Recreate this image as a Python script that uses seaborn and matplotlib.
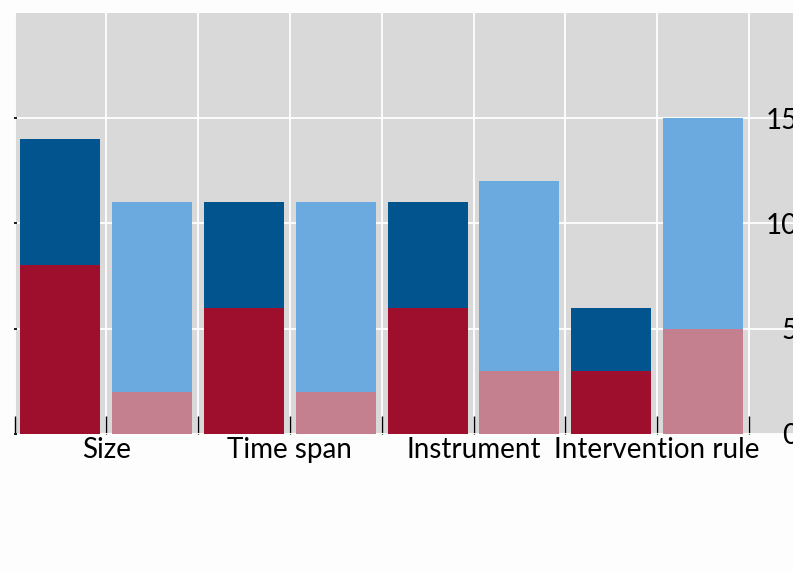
import numpy as np
import pandas as pd
import matplotlib
matplotlib.use("Agg")
import matplotlib.pyplot as plt
import seaborn as sns

# Data
groups = ["Size", "Time span", "Instrument", "Intervention rule"]
bar_ids = ["b0", "b1", "b2", "b3", "b4", "b5", "b6", "b7"]
bottom_vals = [8, 2, 6, 2, 6, 3, 3, 5]
top_vals = [6, 9, 5, 9, 5, 9, 3, 10]
y_ticks = [0, 5, 10, 15]

bottom_colors = ["#9e0f2d", "#c4808f"] * 4
top_colors = ["#02548f", "#6aaadf"] * 4

totals = [b + t for b, t in zip(bottom_vals, top_vals)]
df = pd.DataFrame({"bar": bar_ids, "bottom": bottom_vals, "total": totals})

sns.set_theme(style="darkgrid")
plt.rcParams["font.family"] = ["Lato", "DejaVu Sans"]

fig = plt.figure(figsize=(7.93, 5.73), dpi=100, facecolor="#fdfdfd")
ax = fig.add_axes([14.5 / 793, (573 - 434) / 573, 1 - 14.5 / 793, (434 - 12.7) / 573])
ax.set_facecolor("#d9d9d9")

sns.barplot(data=df, x="bar", y="total", hue="bar", palette=top_colors,
            width=0.87, saturation=1, legend=False, ax=ax, edgecolor="none")
sns.barplot(data=df, x="bar", y="bottom", hue="bar", palette=bottom_colors,
            width=0.87, saturation=1, legend=False, ax=ax, edgecolor="none")

ax.set_xlim(-0.5, 7.98)
ax.set_ylim(0, 20)
ax.set_xlabel("")
ax.set_ylabel("")

xt = np.arange(-0.5, 8, 1)
labels = [""] * len(xt)
for i, g in enumerate(groups):
    labels[2 * i + 1] = g
ax.set_xticks(xt)
ax.set_xticklabels(labels, fontsize=20, color="black")
ax.tick_params(axis="x", direction="in", length=13, width=1.0, color="black",
               bottom=True, pad=2)

ax.set_yticks(y_ticks)
ax.set_yticklabels([str(v) for v in y_ticks], fontsize=20, color="black")
ax.tick_params(axis="y", direction="in", left=True, right=False,
               labelleft=False, labelright=True, length=2, color="black", pad=3.6)
for lab in ax.get_yticklabels():
    lab.set_horizontalalignment("right")

ax.set_axisbelow(True)
ax.grid(True, axis="both", color="white", linewidth=1.3)
for s in ax.spines.values():
    s.set_visible(False)

fig.savefig("out.png", dpi=100, facecolor=fig.get_facecolor())
